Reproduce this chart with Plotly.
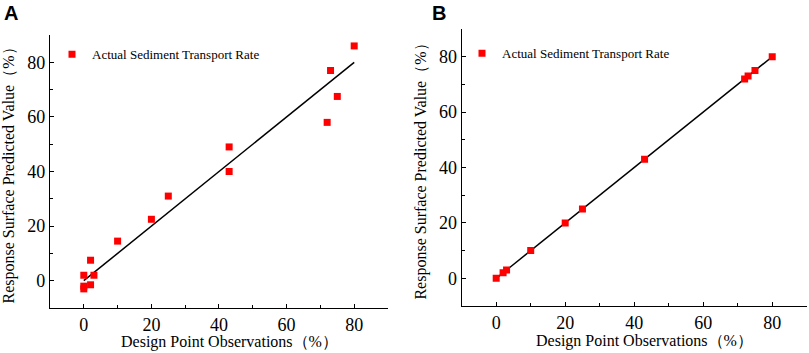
import plotly.graph_objects as go

# Panel A data (design point observations vs response surface predicted values)
obs_a = [0, 0, 0, 2, 2, 3, 10, 20, 25, 43, 43, 72, 73, 75, 80]
pred_a = [2, -2, -3, 7.5, -1.5, 2, 14.5, 22.5, 31, 49, 40, 58, 77, 67.5, 86]

# Panel B data
obs_b = [0, 2, 3, 10, 20, 25, 43, 72, 73, 75, 80]
pred_b = [0, 2, 3, 10, 20, 25, 43, 72, 73, 75, 80]

# reference line (y = x)
line_x = [0, 80]
line_y = [0, 80]

legend_name = "Actual Sediment Transport Rate"
x_title = "Design Point Observations（%）"
y_title = "Response Surface Predicted Value（%）"
tick_vals = [0, 20, 40, 60, 80]
minor_vals = [10, 30, 50, 70, 90]

SERIF = "'Liberation Serif', 'Times New Roman', Times, serif"
RED = "#ff0000"

fig = go.Figure()

# Panel A
fig.add_trace(go.Scatter(x=line_x, y=line_y, mode="lines", line=dict(color="black", width=1.5),
                         showlegend=False, xaxis="x", yaxis="y", hoverinfo="skip"))
fig.add_trace(go.Scatter(x=obs_a, y=pred_a, mode="markers", name=legend_name,
                         marker=dict(symbol="square", size=7, color=RED),
                         xaxis="x", yaxis="y", legend="legend"))
# Panel B
fig.add_trace(go.Scatter(x=line_x, y=line_y, mode="lines", line=dict(color="black", width=1.5),
                         showlegend=False, xaxis="x2", yaxis="y2", hoverinfo="skip"))
fig.add_trace(go.Scatter(x=obs_b, y=pred_b, mode="markers", name=legend_name,
                         marker=dict(symbol="square", size=7, color=RED),
                         xaxis="x2", yaxis="y2", legend="legend2"))

def axis_common():
    return dict(
        range=[-10, 90], tickmode="array", tickvals=tick_vals, automargin=False,
        showline=True, linecolor="black", linewidth=1.3,
        ticks="inside", ticklen=4, tickwidth=1.2, tickcolor="black",
        minor=dict(ticks="inside", ticklen=3, tickwidth=1, tickcolor="black",
                   tickmode="array", tickvals=minor_vals),
        showgrid=False, zeroline=False,
        tickfont=dict(family=SERIF, size=18, color="black"),
    )

title_font = dict(family=SERIF, size=16, color="black")
xa = axis_common(); xa.update(domain=[0.0618, 0.4796], anchor="y")
ya = axis_common(); ya.update(domain=[0.1275, 0.9008], anchor="x",
                              title=dict(text=y_title, font=title_font, standoff=8))
xb = axis_common(); xb.update(domain=[0.5707, 0.9972], anchor="y2")
yb = axis_common(); yb.update(domain=[0.1331, 0.9178], anchor="x2",
                              title=dict(text=y_title, font=title_font, standoff=8))

legend_style = dict(font=dict(family=SERIF, size=13, color="black"), bgcolor="rgba(0,0,0,0)",
                    xanchor="left", yanchor="middle", itemwidth=30, tracegroupgap=0)

fig.update_layout(
    template="none",
    font=dict(family=SERIF, color="black"),
    width=809, height=353,
    margin=dict(l=0, r=0, t=0, b=0),
    paper_bgcolor="white", plot_bgcolor="white",
    xaxis=xa, yaxis=ya, xaxis2=xb, yaxis2=yb,
    legend=dict(x=52 / 809, y=1 - 54.3 / 353, **legend_style),
    legend2=dict(x=462 / 809, y=1 - 53.3 / 353, **legend_style),
    annotations=[
        dict(text="<b>A</b>", x=0.002, y=1.0, xref="paper", yref="paper", xanchor="left", yanchor="top",
             showarrow=False, font=dict(family="Liberation Sans", size=20, color="black")),
        dict(text="<b>B</b>", x=0.531, y=1.0, xref="paper", yref="paper", xanchor="left", yanchor="top",
             showarrow=False, font=dict(family="Liberation Sans", size=20, color="black")),
        dict(text=x_title, x=229 / 809, y=1 - 342 / 353, xref="paper", yref="paper",
             xanchor="center", yanchor="middle", showarrow=False, font=title_font),
        dict(text=x_title, x=644 / 809, y=1 - 341 / 353, xref="paper", yref="paper",
             xanchor="center", yanchor="middle", showarrow=False, font=title_font),
    ],
)

fig.write_html("out.html", config={"displayModeBar": False},
               post_script="document.body.style.margin='0';document.body.style.overflow='hidden';")
